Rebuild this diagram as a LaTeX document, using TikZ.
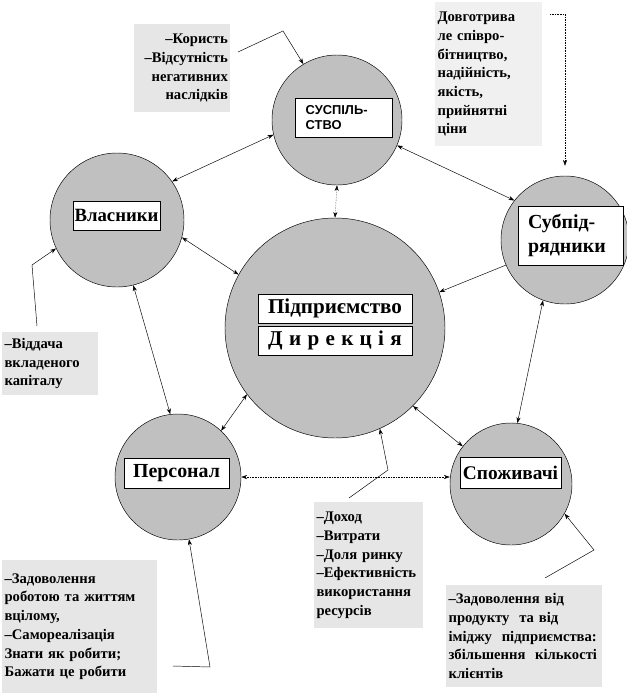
\documentclass[tikz,border=0pt]{standalone}
\usepackage{fontspec}
\setmainfont{Liberation Serif}
\newfontfamily\arialfont{Liberation Sans}
\usetikzlibrary{arrows.meta}
\definecolor{circlegray}{HTML}{C0C0C0}
\definecolor{notegray}{HTML}{E6E6E6}
\definecolor{notelight}{HTML}{F0F0F0}

\begin{document}
\begin{tikzpicture}[x=0.03cm, y=-0.03cm,
  party/.style={circle, draw, fill=circlegray, inner sep=0pt},
  tag/.style={draw, fill=white, inner sep=1pt, font=\bfseries\fontsize{16.5}{18}\selectfont},
  note/.style={fill=notegray, anchor=north west, inner sep=2pt, align=left,
    font=\bfseries\fontsize{12.5}{16}\selectfont},
  link/.style={thin, {Stealth[length=5pt,width=3.5pt]}-{Stealth[length=5pt,width=3.5pt]}},
  pointer/.style={thin, -{Stealth[length=5pt,width=3.5pt]}}]
  \useasboundingbox (0,0) rectangle (627,695);

  % circles
  \node[party, minimum size=6.6cm] (E) at (335,328) {};
  \node[party, minimum size=3.9cm] (S) at (337,120) {};
  \node[party, minimum size=4.02cm] (V) at (117,220) {};
  \node[party, minimum size=3.84cm] (B) at (565,240) {};
  \node[party, minimum size=3.78cm] (P) at (178,477) {};
  \node[party, minimum size=3.66cm] (C) at (511,484) {};

  % labels in the circles
  \node[tag, minimum width=4.62cm, minimum height=0.87cm, font=\bfseries\fontsize{18}{20}\selectfont] (firm) at (335,308.5) {Підприємство};
  \node[tag, minimum width=4.62cm, minimum height=0.87cm, font=\bfseries\fontsize{18}{20}\selectfont] (board) at (335,340.5) {{\spaceskip=0.3em Д и р е к ц і я}};
  \node[tag, inner xsep=0.3cm, text width=2.3cm, minimum height=1.17cm, align=left,
    font=\arialfont\bfseries\fontsize{11}{13}\selectfont] (society) at (344,117.5) {СУСПІЛЬ-\\СТВО};
  \node[tag, minimum width=2.61cm, minimum height=0.87cm, font=\bfseries\fontsize{16}{18}\selectfont] (owners) at (116.5,215.5) {Власники};
  \node[tag, inner xsep=0.3cm, text width=2.55cm, minimum height=1.77cm, align=left,
    font=\bfseries\fontsize{17}{20}\selectfont] (subs) at (570.5,235.5) {Субпід-\\рядники};
  \node[tag, minimum width=3.15cm, minimum height=0.9cm, font=\bfseries\fontsize{17}{18}\selectfont] (staff) at (176.5,473) {Персонал};
  \node[tag, minimum width=3.03cm, minimum height=0.93cm] (buyers) at (510.5,472.5) {Споживачі};

  % notes
  \node[note, align=right, text width=2.74cm, minimum height=2.64cm] (benefit) at (134,24) {–Користь\\–Відсутність\\негативних\\наслідків};
  \node[note, fill=notelight, text width=3.07cm, minimum height=4.32cm] (partner) at (435,2) {Довготрива\\ле співро-\\бітництво,\\надійність,\\якість,\\прийнятні\\ціни};
  \node[note, text width=2.74cm, minimum height=1.89cm] (return) at (2,332) {–Віддача\\вкладеного\\капіталу};
  \node[note, text width=4.51cm, minimum height=3.99cm] (content) at (2,560) {–Задоволення\\роботою та життям\\вцілому,\\–Самореалізація\\Знати як робити;\\Бажати це робити};
  \node[note, text width=3.13cm, minimum height=3.78cm] (income) at (314,502) {–Доход\\–Витрати\\–Доля ринку\\–Ефективність\\використання\\ресурсів};
  \node[note, text width=4.54cm, minimum height=3.06cm] (image) at (446,585) {–Задоволення від\\продукту~ та від\\іміджу~ підприємства:\\збільшення~ кількості\\клієнтів};

  % links between the circles
  \draw[link] (V.35) -- (S.193);
  \draw[link] (S.337) -- (B.142);
  \draw[link, densely dotted] (S.south) -- (E.north);
  \draw[link] (V.345) -- (E.151);
  \draw[link] (V.284) -- (P.97);
  \draw[link] (P.47) -- (E.217);
  \draw[link, densely dotted] (P.east) -- (P.east -| C.west);
  \draw[link] (E.315) -- (C.142);
  \draw[link] (B.250) -- (C.84);
  \draw[pointer] (B.203) -- (E.19);

  % pointers from the notes
  \coordinate (tl1) at (238,52);
  \coordinate (tl2) at (283,31);
  \draw[pointer] (tl1) -- (tl2) -- (S.121);
  \coordinate (tr1) at (550,14);
  \coordinate (tr2) at (565,14);
  \draw[pointer, densely dotted, shorten >=3mm] (tr1) -- (tr2) -- (B.north);
  \coordinate (lb1) at (37,326);
  \coordinate (lb2) at (32,265);
  \draw[pointer] (lb1) -- (lb2) -- (V.205);
  \coordinate (bl1) at (173,666);
  \coordinate (bl2) at (210,667);
  \draw[pointer] (bl1) -- (bl2) -- (P.280);
  \coordinate (bc1) at (349,498);
  \coordinate (bc2) at (388,470);
  \draw[pointer] (bc1) -- (bc2) -- (E.294);
  \coordinate (br1) at (545,578);
  \coordinate (br2) at (594,550);
  \draw[pointer] (br1) -- (br2) -- (C.331);
\end{tikzpicture}
\end{document}
